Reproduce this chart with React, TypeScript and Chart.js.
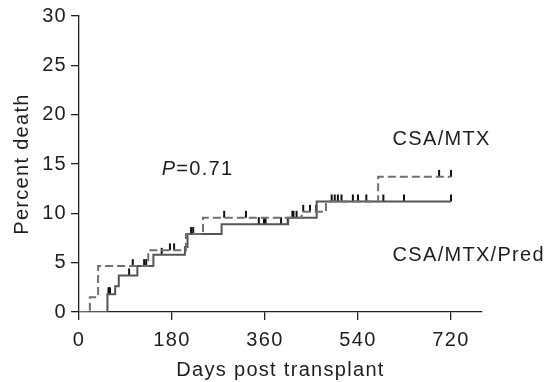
import React, { useEffect, useRef } from "react";
import { Chart, registerables } from "chart.js";

Chart.register(...registerables);

// ---- data ----
const X_TICKS = [0, 180, 360, 540, 720];
const Y_TICKS = [0, 5, 10, 15, 20, 25, 30];

// CSA/MTX (dashed) Kaplan-Meier steps: day at which cumulative percent changes
const CSA_MTX_DAYS = [0, 21, 37, 134, 207, 240, 431, 478, 579, 720];
const CSA_MTX_PCT = [0, 1.5, 4.65, 6.25, 7.9, 9.55, 10.15, 11.2, 13.7, 13.7];
const CSA_MTX_CENSOR = [104, 176, 184, 281, 323, 415, 434, 447, 459, 697, 720];

// CSA/MTX/Pred (solid)
const PRED_DAYS = [0, 55, 70, 77, 113, 144, 205, 210, 276, 405, 460, 720];
const PRED_PCT = [0, 1.8, 2.6, 3.7, 4.65, 5.8, 6.6, 7.9, 8.9, 9.55, 11.2, 11.2];
const PRED_CENSOR = [57, 60, 97, 126, 130, 160, 217, 221, 348, 358, 361, 391, 404, 413, 421, 489, 495, 501, 508, 530, 540, 556, 589, 629, 720];

const SERIES_LABELS = ["CSA/MTX", "CSA/MTX/Pred"];
const P_TEXT = { italic: "P", rest: "=0.71" };

// annotation anchors (data coordinates)
const LABEL_POS = [
  { x: 607, y: 17.5 },
  { x: 607, y: 5.77 },
];
const P_POS = { x: 160, y: 14.4 };

const FONT_FAMILY = "'Liberation Sans', Arial, Helvetica, sans-serif";
const FONT_SIZE = 20;
const TEXT_COLOR = "#1e1e1e";
const AXIS_COLOR = "#222";
const LETTER_SPACING = "1.3px";

function stepValue(days: number[], pct: number[], day: number): number {
  let v = 0;
  for (let i = 0; i < days.length; i++) {
    if (days[i] <= day) v = pct[i];
  }
  return v;
}

function makeTickImage(): HTMLCanvasElement {
  const c = document.createElement("canvas");
  c.width = 4;
  c.height = 16;
  const g = c.getContext("2d")!;
  g.fillStyle = "#111";
  g.fillRect(1, 1, 2, 7);
  return c;
}

const spacingPlugin = {
  id: "spacing",
  beforeUpdate(chart: any) {
    chart.ctx.letterSpacing = LETTER_SPACING;
  },
  beforeDraw(chart: any) {
    chart.ctx.letterSpacing = LETTER_SPACING;
  },
};

const annotationPlugin = {
  id: "annotations",
  afterDraw(chart: any) {
    const { ctx, scales } = chart;
    const xs = scales.x;
    const ys = scales.y;
    ctx.save();
    ctx.letterSpacing = LETTER_SPACING;
    ctx.fillStyle = TEXT_COLOR;
    ctx.textBaseline = "middle";
    ctx.textAlign = "left";
    ctx.font = `${FONT_SIZE}px ${FONT_FAMILY}`;
    SERIES_LABELS.forEach((t, i) => {
      ctx.fillText(t, xs.getPixelForValue(LABEL_POS[i].x), ys.getPixelForValue(LABEL_POS[i].y));
    });
    const px = xs.getPixelForValue(P_POS.x);
    const py = ys.getPixelForValue(P_POS.y);
    ctx.font = `italic ${FONT_SIZE}px ${FONT_FAMILY}`;
    ctx.fillText(P_TEXT.italic, px, py);
    const w = ctx.measureText(P_TEXT.italic).width;
    ctx.font = `${FONT_SIZE}px ${FONT_FAMILY}`;
    ctx.fillText(P_TEXT.rest, px + w, py);
    ctx.restore();
  },
};

export default function App() {
  const ref = useRef<HTMLCanvasElement>(null);

  useEffect(() => {
    const canvas = ref.current;
    if (!canvas) return;
    const tickImg = makeTickImage();
    const font = { family: FONT_FAMILY, size: FONT_SIZE };

    const chart = new Chart(canvas, {
      type: "line",
      data: {
        datasets: [
          {
            label: SERIES_LABELS[0],
            data: CSA_MTX_DAYS.map((d, i) => ({ x: d, y: CSA_MTX_PCT[i] })),
            stepped: "before",
            borderColor: "#707070",
            borderWidth: 2,
            borderDash: [8, 4],
            pointRadius: 0,
            fill: false,
          },
          {
            label: SERIES_LABELS[1],
            data: PRED_DAYS.map((d, i) => ({ x: d, y: PRED_PCT[i] })),
            stepped: "before",
            borderColor: "#555555",
            borderWidth: 2,
            pointRadius: 0,
            fill: false,
          },
          {
            label: "censor1",
            data: CSA_MTX_CENSOR.map((d) => ({ x: d, y: stepValue(CSA_MTX_DAYS, CSA_MTX_PCT, d) })),
            showLine: false,
            pointStyle: tickImg,
            pointRadius: 3,
          },
          {
            label: "censor2",
            data: PRED_CENSOR.map((d) => ({ x: d, y: stepValue(PRED_DAYS, PRED_PCT, d) })),
            showLine: false,
            pointStyle: tickImg,
            pointRadius: 3,
          },
        ],
      },
      options: {
        responsive: false,
        devicePixelRatio: 1,
        animation: false,
        layout: { padding: { top: 15, right: 68, bottom: 0, left: 0 } },
        plugins: { legend: { display: false }, tooltip: { enabled: false } },
        scales: {
          x: {
            type: "linear",
            min: 0,
            max: 780,
            afterBuildTicks: (s: any) => {
              s.ticks = X_TICKS.map((v) => ({ value: v }));
            },
            afterFit: (s: any) => {
              s.height = 70;
            },
            ticks: { font, color: TEXT_COLOR, padding: 8, maxRotation: 0, autoSkip: false },
            grid: { drawOnChartArea: false, drawTicks: true, tickLength: 8, color: AXIS_COLOR, lineWidth: 1.3 },
            border: { color: AXIS_COLOR, width: 1.3 },
            title: { display: true, text: "Days post transplant", font, color: TEXT_COLOR, padding: { top: 0, bottom: 0 } },
          },
          y: {
            type: "linear",
            min: 0,
            max: 30,
            afterBuildTicks: (s: any) => {
              s.ticks = Y_TICKS.map((v) => ({ value: v }));
            },
            afterFit: (s: any) => {
              s.width = 79;
            },
            ticks: { font, color: TEXT_COLOR, padding: 4 },
            grid: { drawOnChartArea: false, drawTicks: true, tickLength: 8, color: AXIS_COLOR, lineWidth: 1.3 },
            border: { color: AXIS_COLOR, width: 1.3 },
            title: { display: true, text: "Percent death", font, color: TEXT_COLOR, padding: { top: 10, bottom: 0 } },
          },
        },
      },
      plugins: [spacingPlugin, annotationPlugin],
    } as any);

    return () => chart.destroy();
  }, []);

  return (
    <div style={{ position: "fixed", left: 0, top: 0, width: 550, height: 382, background: "#fff" }}>
      <canvas ref={ref} width={550} height={382} style={{ display: "block", width: 550, height: 382 }} />
    </div>
  );
}
